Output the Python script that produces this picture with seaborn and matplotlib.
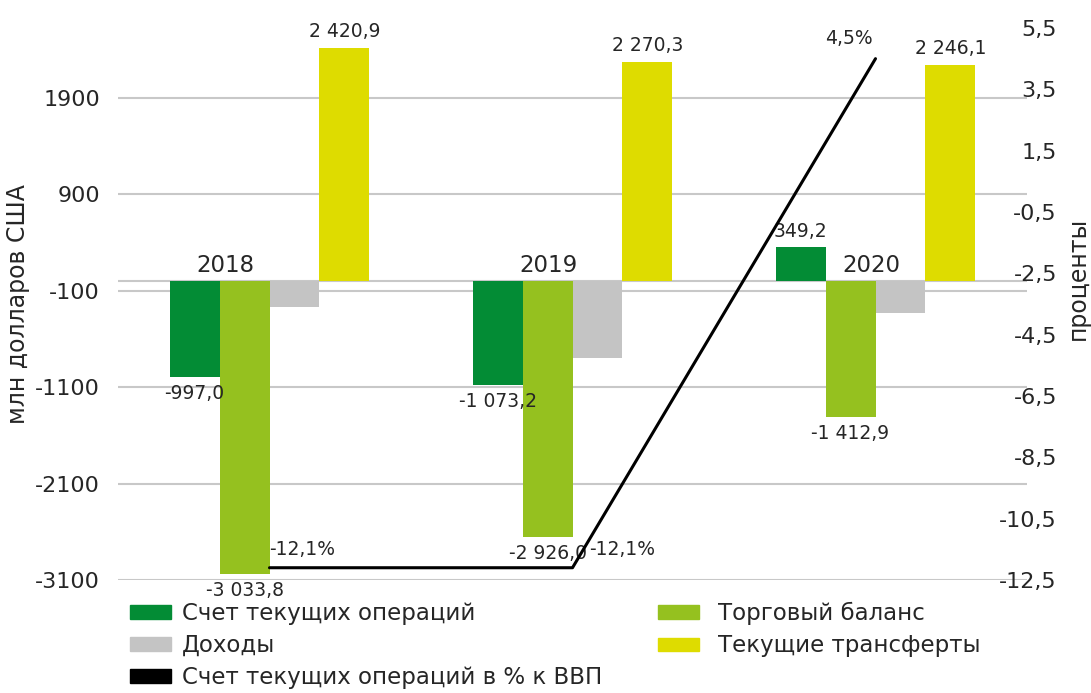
import matplotlib
matplotlib.use("Agg")
import matplotlib.pyplot as plt
import matplotlib.ticker as mticker
from matplotlib.patches import Patch
import numpy as np
import pandas as pd
import seaborn as sns

# ---------------------------
# DATA
# ---------------------------
years = ["2018", "2019", "2020"]
series = ["Счет текущих операций", "Торговый баланс", "Доходы", "Текущие трансферты"]
current_account = [-997.0, -1073.2, 349.2]
trade_balance = [-3033.8, -2655.0, -1412.9]   # 2019 bar is drawn shorter than its label
income = [-267.0, -796.0, -329.0]
transfers = [2420.9, 2270.3, 2246.1]
ca_gdp = [-12.1, -12.1, 4.5]
line_label = "Счет текущих операций в % к ВВП"

# labels as printed on the chart
bar_labels = {
    "Счет текущих операций": ["-997,0", "-1 073,2", "349,2"],
    "Торговый баланс": ["-3 033,8", "-2 926,0", "-1 412,9"],
    "Текущие трансферты": ["2 420,9", "2 270,3", "2 246,1"],
}

colors = ["#038C35", "#95C11F", "#C4C4C4", "#DEDC00"]

df = pd.DataFrame({
    "year": years * 4,
    "series": np.repeat(series, 3),
    "value": current_account + trade_balance + income + transfers,
})

# ---------------------------
# PLOT
# ---------------------------
sns.set_style("white")
plt.rcParams["font.family"] = ["DejaVu Sans"]
plt.rcParams["axes.unicode_minus"] = False

fig = plt.figure(figsize=(10.91, 6.93), dpi=100)
ax = fig.add_axes([118 / 1091, 1 - 580 / 693, 909 / 1091, 552 / 693])

sns.barplot(data=df, x="year", y="value", hue="series", hue_order=series,
            palette=colors, width=0.66, gap=0, saturation=1, legend=False,
            linewidth=0, ax=ax)

ax.set_ylim(-3100, 2626)
ax.set_yticks([-3100, -2100, -1100, -100, 900, 1900])
ax.yaxis.grid(True, color="#C8C8C8", linewidth=1.5)
ax.axhline(0, color="#C8C8C8", linewidth=1.5, zorder=0)
ax.set_axisbelow(True)
ax.set_xticks([])
ax.set_xlabel("")
ax.set_ylabel("млн долларов США", fontsize=17)
ax.yaxis.set_label_coords(-0.0968, 0.5)
ax.tick_params(axis="y", length=0, pad=13, labelsize=16)
sns.despine(ax=ax, left=True, bottom=True)

# value labels (no labels on "Доходы")
for name, cont in zip(series, ax.containers):
    if name not in bar_labels:
        continue
    ax.bar_label(cont, labels=bar_labels[name], padding=5, fontsize=13.5)

# year labels sit on the zero line
year_offsets = [-0.145, -0.08, -0.013]
for i, (yr, off) in enumerate(zip(years, year_offsets)):
    ax.text(i + off, 45, yr, ha="center", va="bottom", fontsize=16.5)

# right axis: percent of GDP
ax2 = ax.twinx()
sns.lineplot(x=[0, 1, 2], y=ca_gdp, ax=ax2, color="black", linewidth=2.2)
ax2.set_ylim(-12.5, 5.5)
ax2.set_yticks(np.arange(-12.5, 5.6, 2))
ax2.yaxis.set_major_formatter(
    mticker.FuncFormatter(lambda v, p: f"{v:.1f}".replace(".", ",")))
ax2.tick_params(axis="y", length=0, pad=21.6, labelsize=16)
for lbl in ax2.get_yticklabels():
    lbl.set_horizontalalignment("right")
ax2.set_ylabel("проценты", fontsize=17)
ax2.yaxis.set_label_coords(1.043, 0.547)
sns.despine(ax=ax2, left=True, bottom=True, right=True)

line_offsets = [(0, 6, "left"), (12, 6, "left"), (-2, 8, "right")]
for i, (v, (dx, dy, ha)) in enumerate(zip(ca_gdp, line_offsets)):
    ax2.annotate(f"{v:.1f}%".replace(".", ","), (i, v), xytext=(dx, dy),
                 textcoords="offset points", ha=ha, va="bottom", fontsize=13.5)

ax.set_xlim(-0.5, 2.5)

# legend in two separate columns
left_handles = [Patch(color=colors[0], label=series[0]),
                Patch(color=colors[2], label=series[2]),
                Patch(color="black", label=line_label)]
right_handles = [Patch(color=colors[1], label=series[1]),
                 Patch(color=colors[3], label=series[3])]
common = dict(frameon=False, fontsize=16.5, handlelength=1.77, handleheight=0.53,
              labelspacing=0.4, borderpad=0, borderaxespad=0, loc="upper left")
fig.legend(handles=left_handles, bbox_to_anchor=(130 / 1091, 1 - 602 / 693),
           handletextpad=0.5, **common)
fig.legend(handles=right_handles, bbox_to_anchor=(658 / 1091, 1 - 602 / 693),
           handletextpad=0.85, **common)

fig.savefig("out.png", dpi=100)
